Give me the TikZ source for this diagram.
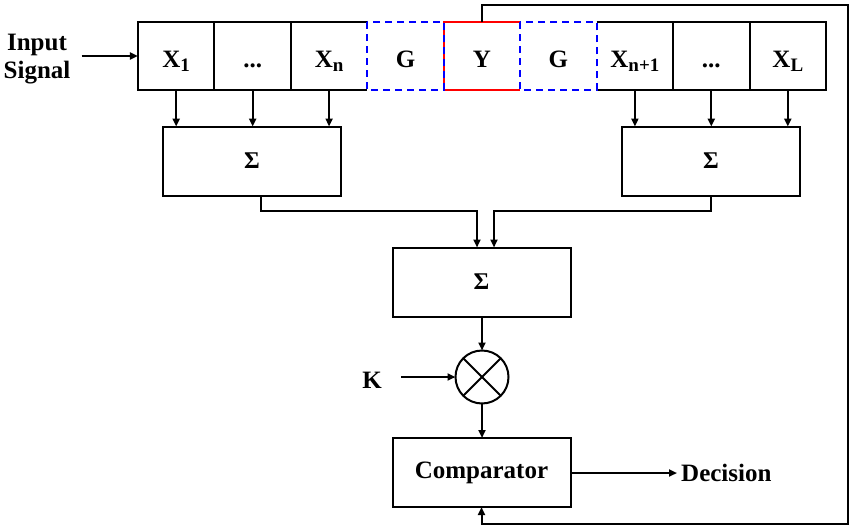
\documentclass[tikz,border=0pt]{standalone}
\usepackage{fontspec}
\setmainfont{Liberation Serif}
\usetikzlibrary{arrows.meta}
\newcommand\mysub[1]{\raisebox{-4pt}{\fontsize{19}{20}\selectfont #1}}
\begin{document}
\begin{tikzpicture}[x=1pt,y=-1pt,
  lbl/.style={font=\fontsize{25}{28}\selectfont\bfseries},
  cell/.style={lbl, minimum width=76.44pt, minimum height=68pt, inner sep=0pt, outer sep=0pt, text height=23pt, text depth=0pt},
  ln/.style={line width=2pt},
  sumbox/.style={draw, ln, minimum width=178pt, minimum height=69pt, inner sep=0pt, outer sep=0pt, font=\fontsize{24}{26}\selectfont\bfseries},
  arr/.style={ln, -{Triangle[length=8pt,width=7pt]}},
  gap/.style={line width=2pt, draw=blue, dash pattern=on 7pt off 5pt},
  seg/.style={line width=2pt, draw=red}
]
\useasboundingbox (0,0) rectangle (854,530);
% top row cells
\node[cell] (x1)  at (176.2,56) {X\mysub{1}};
\node[cell] (xd1) at (252.7,56) {...};
\node[cell] (xn)  at (329.1,56) {X\mysub{n}};
\node[cell] (g1)  at (405.5,56) {G};
\node[cell] (y)   at (482.0,56) {Y};
\node[cell] (g2)  at (558.4,56) {G};
\node[cell] (xn1) at (634.9,56) {X\mysub{n+1}};
\node[cell] (xd2) at (711.3,56) {...};
\node[cell] (xL)  at (787.8,56) {X\mysub{L}};
% outlines
\draw[ln] (xn.north east) -- (x1.north west) -- (x1.south west) -- (xn.south east);
\draw[ln] (x1.north east) -- (x1.south east);
\draw[ln] (xd1.north east) -- (xd1.south east);
\draw[ln] (xn1.north west) -- (xL.north east) -- (xL.south east) -- (xn1.south west);
\draw[ln] (xn1.north east) -- (xn1.south east);
\draw[ln] (xd2.north east) -- (xd2.south east);
\draw[seg] (y.north east) -- (y.north west) -- (y.south west) -- (y.south east);
\draw[gap] (g1.north west) rectangle (g1.south east);
\draw[gap] (g2.north west) rectangle (g2.south east);
% input
\node[lbl, align=center, inner sep=2pt] (in) at (37,59) {Input\\Signal};
\draw[arr] ([xshift=9pt]in.east |- x1.west) -- (x1.west);
% summing boxes
\node[sumbox] (ls) at (252,161) {Σ};
\node[sumbox] (rs) at (711,161) {Σ};
\node[sumbox] (ms) at (481.5,282) {Σ};
\foreach \c in {x1,xd1,xn} \draw[arr] (\c.south) -- (\c.south |- ls.north);
\foreach \c in {xn1,xd2,xL} \draw[arr] (\c.south) -- (\c.south |- rs.north);
\coordinate (lj) at (477,211);
\coordinate (rj) at (494,211);
\draw[arr] ([xshift=9pt]ls.south) |- (lj) -- (lj |- ms.north);
\draw[arr] (rs.south) |- (rj) -- (rj |- ms.north);
% multiplier
\node[draw, circle, ln, minimum size=53pt, inner sep=0pt, outer sep=0pt] (m) at (482,377) {};
\draw[ln] (m.45) -- (m.225);
\draw[ln] (m.135) -- (m.315);
\draw[arr] (ms.south -| m.north) -- (m.north);
\node[lbl] (k) at (372,380) {K};
\draw[arr] ([xshift=16pt]k.east |- m.west) -- (m.west);
% comparator
\node[sumbox, font=\fontsize{25}{28}\selectfont\bfseries] (cmp) at (481.5,472.5) {Comparator};
\draw[arr] (m.south) -- (m.south |- cmp.north);
\node[lbl, anchor=west, inner sep=4pt] (dec) at (677,473) {Decision};
\draw[arr] (cmp.east |- dec.west) -- (dec.west);
% feedback
\coordinate (fbtr) at (848,5);
\coordinate (fbbr) at (848,524);
\draw[arr] (y.north) |- (fbtr) -- (fbbr) -| (cmp.south);
\end{tikzpicture}
\end{document}
